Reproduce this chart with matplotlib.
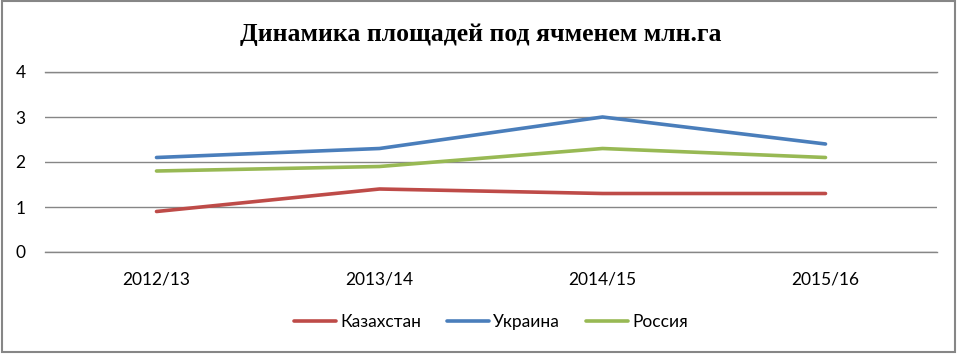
import matplotlib
matplotlib.use("Agg")
import matplotlib.pyplot as plt
from matplotlib.patches import Rectangle

categories = ["2012/13", "2013/14", "2014/15", "2015/16"]
kazakhstan = [0.9, 1.4, 1.3, 1.3]
ukraine = [2.1, 2.3, 3.0, 2.4]
russia = [1.8, 1.9, 2.3, 2.1]
series_names = ["Казахстан", "Украина", "Россия"]
colors = ["#BE4B48", "#4A7EBB", "#98B954"]
title = "Динамика площадей под ячменем млн.га"

plt.rcParams['font.family'] = ['Lato', 'DejaVu Sans']

fig = plt.figure(figsize=(9.61, 3.54), dpi=100)
ax = fig.add_axes([45/961, 1-252/354, (937-45)/961, (252-72)/354])

x = list(range(len(categories)))
for vals, name, c in zip([kazakhstan, ukraine, russia], series_names, colors):
    ax.plot(x, vals, color=c, lw=2.6, label=name, solid_capstyle='round', zorder=3)

ax.set_xlim(-0.5, len(categories)-0.5)
ax.set_ylim(0, 4)
ax.set_yticks([0, 1, 2, 3, 4])
ax.set_xticks(x)
ax.set_xticklabels(categories)
ax.yaxis.grid(True, color="#868686", lw=1)
ax.axhline(0, color="#868686", lw=1, clip_on=False, zorder=1)
ax.axhline(4, color="#868686", lw=1, clip_on=False, zorder=1)
ax.set_axisbelow(True)
for s in ax.spines.values():
    s.set_visible(False)
ax.tick_params(axis='both', length=0, labelsize=12.5, colors='black')
ax.tick_params(axis='y', pad=14)
ax.tick_params(axis='x', pad=14)

fig.text(0.5, 1-34/354, title, ha='center', va='center', fontsize=18.5,
         fontweight='bold', family=['Liberation Serif'])

leg = ax.legend(loc='center', bbox_to_anchor=(0.5, (252-322)/180), ncol=3,
                frameon=False, fontsize=12.5, handlelength=2.4, handletextpad=0.25,
                columnspacing=1.5)

fig.patches.append(Rectangle((2/961, 1-352/354), 953/961, 351/354, transform=fig.transFigure,
                             fill=False, edgecolor="#868686", lw=1.5))

fig.savefig("out.png", dpi=100)
